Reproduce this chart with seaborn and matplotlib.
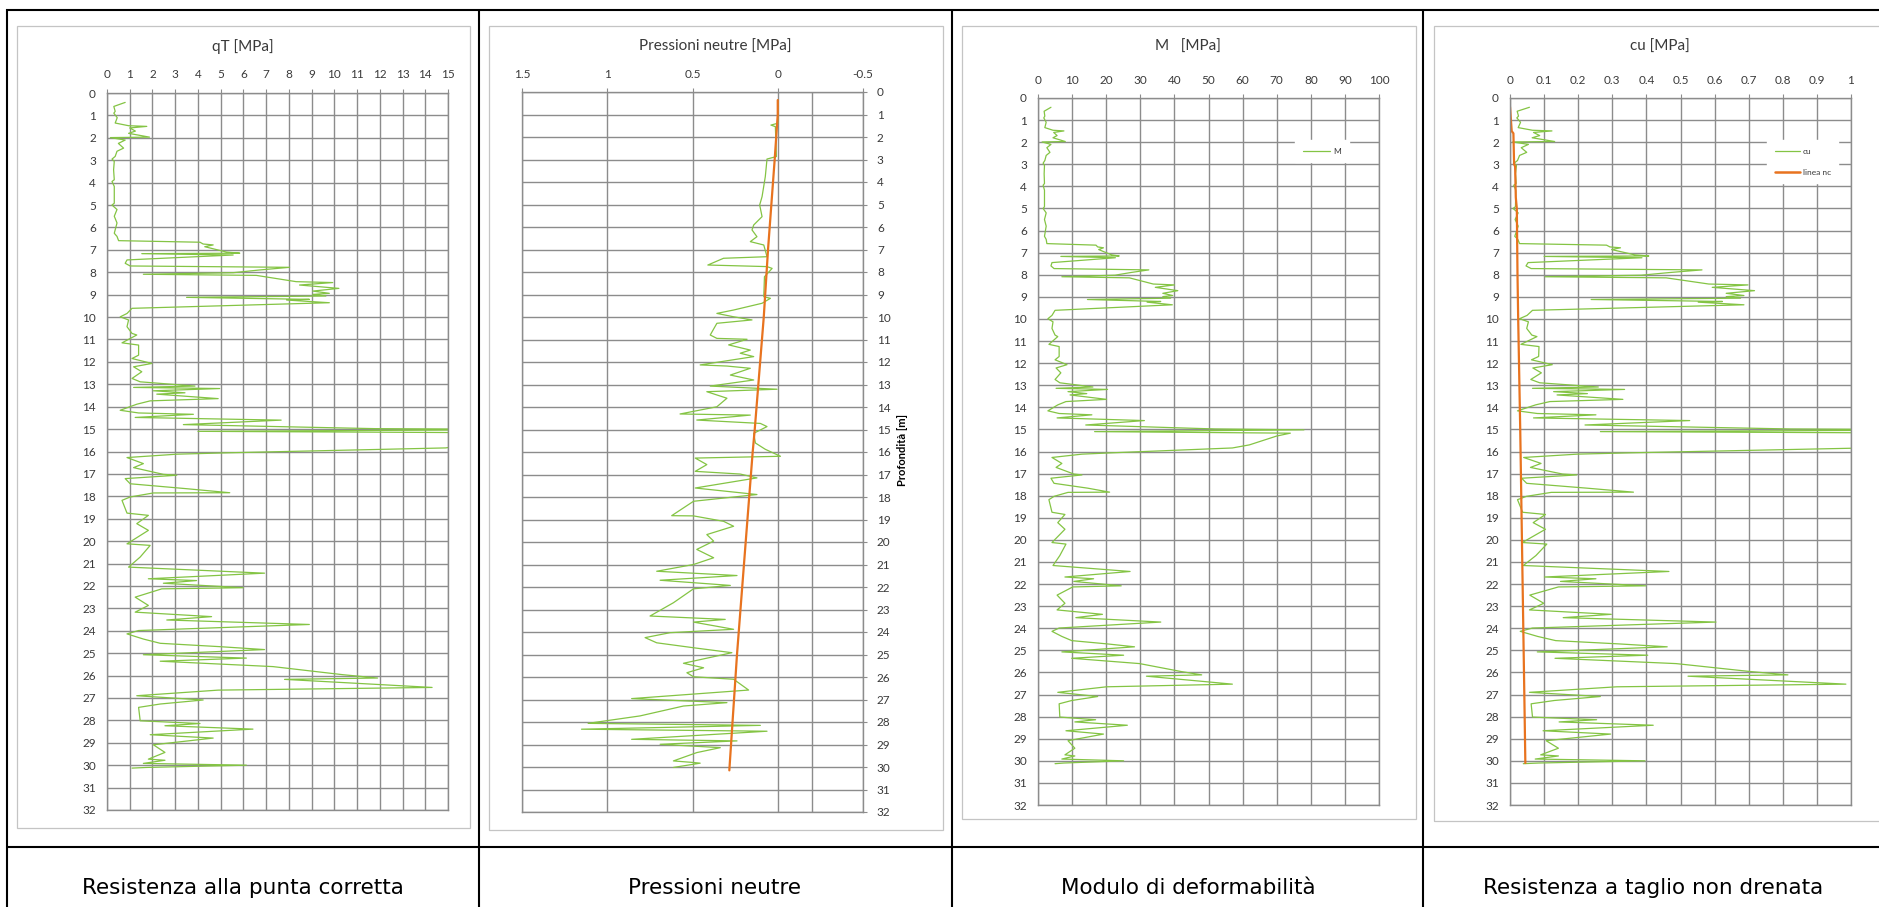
import matplotlib
matplotlib.use("Agg")
import matplotlib.pyplot as plt
import seaborn as sns
from matplotlib.lines import Line2D
from matplotlib.patches import Rectangle

# ---------------------------------------------------------------- data
# CPT depth samples [m] shared by qT, M and cu
depth_cpt = [0.42, 0.60, 0.82, 0.90, 1.10, 1.34, 1.46, 1.49, 1.56, 1.70,
             1.80, 1.97, 1.99, 2.10, 2.25, 2.46, 2.60, 2.83, 2.95, 3.05,
             3.43, 3.87, 3.95, 4.17, 4.92, 5.00, 5.20, 5.50, 5.80, 6.26,
             6.40, 6.59, 6.66, 6.74, 6.78, 6.86, 6.97, 7.10, 7.15, 7.17,
             7.23, 7.45, 7.60, 7.72, 7.78, 7.90, 8.02, 8.09, 8.14, 8.42,
             8.46, 8.57, 8.72, 8.84, 8.94, 8.99, 9.06, 9.12, 9.21, 9.24,
             9.36, 9.61, 9.84, 9.99, 10.13, 10.43, 10.73, 10.80, 11.15, 11.25,
             11.70, 11.85, 12.07, 12.22, 12.44, 12.74, 12.89, 13.08, 13.14, 13.19,
             13.29, 13.38, 13.44, 13.64, 13.74, 13.89, 14.16, 14.28, 14.34, 14.48,
             14.60, 14.80, 14.98, 15.02, 15.10, 15.17, 15.30, 15.50, 15.70, 15.84,
             16.06, 16.12, 16.27, 16.54, 16.72, 17.02, 17.06, 17.21, 17.44, 17.66,
             17.84, 17.85, 18.03, 18.18, 18.75, 18.85, 19.22, 19.52, 20.12, 20.19,
             20.71, 21.16, 21.43, 21.68, 21.76, 21.88, 22.08, 22.13, 22.50, 22.87,
             23.17, 23.37, 23.52, 23.72, 23.99, 24.14, 24.37, 24.56, 24.71, 24.84,
             25.07, 25.22, 25.36, 25.60, 25.96, 26.11, 26.17, 26.53, 26.65, 26.90,
             27.09, 27.27, 27.42, 28.02, 28.14, 28.24, 28.39, 28.64, 28.79, 29.09,
             29.43, 29.73, 29.78, 29.92, 30.00, 30.10, 30.13]

# corrected cone resistance qT [MPa]
qt = [0.80, 0.30, 0.36, 0.30, 0.45, 0.36, 0.95, 1.75, 1.00, 1.25,
      0.95, 1.87, 0.15, 0.80, 0.50, 0.73, 0.44, 0.36, 0.22, 0.32,
      0.29, 0.32, 0.22, 0.32, 0.32, 0.22, 0.44, 0.32, 0.44, 0.32,
      0.44, 0.51, 4.09, 4.23, 4.67, 4.30, 4.74, 5.26, 5.84, 1.53,
      5.55, 0.88, 0.80, 1.02, 8.03, 6.70, 5.55, 1.60, 6.57, 8.32,
      9.93, 8.47, 10.20, 9.05, 9.78, 9.05, 9.63, 3.50, 8.90, 7.90,
      9.78, 1.10, 0.88, 0.58, 0.95, 0.88, 1.10, 1.31, 0.66, 1.39,
      1.39, 1.10, 1.97, 1.17, 1.53, 1.10, 1.46, 3.87, 1.17, 4.96,
      2.04, 3.43, 2.19, 4.89, 1.90, 1.31, 0.58, 1.39, 3.80, 1.24,
      7.66, 3.36, 11.80, 19.50, 4.00, 18.50, 17.00, 16.50, 15.80, 14.90,
      5.26, 3.07, 0.88, 1.60, 1.17, 2.48, 3.07, 0.80, 1.02, 3.50,
      5.40, 2.04, 1.02, 0.66, 0.88, 1.82, 1.31, 1.82, 0.88, 1.90,
      1.46, 0.95, 6.93, 1.82, 3.94, 2.48, 5.99, 2.41, 1.24, 1.82,
      1.24, 4.60, 2.63, 8.90, 1.39, 0.88, 1.60, 2.34, 4.96, 6.93,
      1.60, 6.13, 2.34, 7.30, 10.36, 11.90, 7.81, 14.30, 4.89, 1.31,
      4.23, 2.34, 1.39, 1.46, 4.09, 2.55, 6.42, 1.90, 4.67, 2.04,
      2.55, 1.82, 2.55, 1.60, 6.13, 1.75, 1.10]

# deformation modulus M [MPa]
modulus = [3.8, 1.8, 2.0, 1.7, 2.4, 2.0, 4.4, 7.6, 4.6, 5.6,
           4.4, 8.0, 1.2, 3.8, 2.6, 3.5, 2.4, 2.0, 1.5, 1.9,
           1.8, 1.9, 1.5, 1.9, 1.9, 1.5, 2.4, 1.9, 2.4, 1.9,
           2.4, 2.6, 17.0, 17.5, 19.2, 17.8, 19.5, 21.6, 23.8, 6.7,
           22.7, 4.1, 3.8, 4.7, 32.5, 27.2, 22.6, 7.0, 26.8, 33.8,
           40.0, 34.4, 41.0, 36.6, 39.5, 36.6, 38.9, 14.5, 36.0, 32.0,
           39.4, 5.0, 4.1, 2.9, 4.4, 4.1, 5.0, 5.8, 3.2, 6.2,
           6.2, 5.0, 8.5, 5.3, 6.7, 5.0, 6.4, 16.1, 5.3, 20.4,
           8.8, 14.3, 9.4, 20.1, 8.2, 5.8, 2.9, 6.2, 15.8, 5.6,
           31.2, 14.0, 52.0, 78.0, 16.6, 74.0, 70.0, 66.0, 62.0, 57.0,
           21.6, 12.9, 4.1, 7.0, 5.3, 10.5, 12.9, 3.8, 4.7, 14.6,
           21.0, 8.8, 4.7, 3.2, 4.1, 7.9, 5.8, 7.9, 4.1, 8.2,
           6.4, 4.4, 27.0, 7.9, 16.3, 10.5, 24.4, 10.2, 5.6, 7.9,
           5.6, 18.9, 11.1, 36.0, 6.2, 4.1, 7.0, 9.9, 20.4, 28.3,
           7.0, 25.1, 9.9, 29.8, 42.0, 48.0, 31.8, 57.0, 20.1, 5.8,
           17.5, 9.9, 6.2, 6.4, 16.9, 10.8, 26.2, 8.2, 19.2, 8.8,
           10.8, 7.9, 10.8, 7.0, 25.1, 7.6, 5.0]

# undrained shear strength cu [MPa]
cu = [0.057, 0.021, 0.025, 0.020, 0.031, 0.024, 0.066, 0.123, 0.069, 0.087,
      0.065, 0.131, 0.008, 0.054, 0.033, 0.049, 0.028, 0.022, 0.012, 0.019,
      0.016, 0.018, 0.011, 0.017, 0.016, 0.009, 0.024, 0.015, 0.024, 0.014,
      0.023, 0.028, 0.283, 0.293, 0.324, 0.298, 0.329, 0.366, 0.407, 0.100,
      0.387, 0.053, 0.047, 0.062, 0.563, 0.468, 0.385, 0.103, 0.458, 0.583,
      0.698, 0.593, 0.717, 0.634, 0.686, 0.634, 0.676, 0.238, 0.623, 0.552,
      0.686, 0.066, 0.050, 0.028, 0.054, 0.049, 0.064, 0.079, 0.032, 0.085,
      0.084, 0.063, 0.124, 0.067, 0.092, 0.061, 0.087, 0.259, 0.066, 0.336,
      0.128, 0.227, 0.138, 0.331, 0.117, 0.075, 0.022, 0.080, 0.252, 0.069,
      0.527, 0.220, 0.822, 1.370, 0.265, 1.300, 1.190, 1.160, 1.110, 1.040,
      0.354, 0.197, 0.040, 0.091, 0.060, 0.154, 0.196, 0.034, 0.049, 0.226,
      0.362, 0.121, 0.048, 0.022, 0.037, 0.104, 0.068, 0.104, 0.036, 0.108,
      0.076, 0.039, 0.466, 0.101, 0.252, 0.148, 0.398, 0.142, 0.058, 0.099,
      0.057, 0.297, 0.156, 0.604, 0.066, 0.030, 0.081, 0.134, 0.321, 0.461,
      0.080, 0.404, 0.132, 0.487, 0.705, 0.815, 0.522, 0.985, 0.313, 0.057,
      0.265, 0.130, 0.062, 0.066, 0.254, 0.144, 0.420, 0.097, 0.295, 0.106,
      0.142, 0.090, 0.142, 0.074, 0.396, 0.084, 0.039]

# measured pore pressure u2 [MPa]
depth_u = [0.36, 1.39, 1.47, 1.54, 2.87, 2.98, 3.76, 4.65, 5.02, 5.54,
           5.91, 6.13, 6.43, 6.65, 6.80, 7.32, 7.39, 7.69, 7.76, 7.84,
           8.21, 9.10, 9.17, 9.39, 9.69, 9.84, 9.99, 10.13, 10.28, 10.80,
           10.95, 10.99, 11.24, 11.47, 11.61, 11.76, 12.13, 12.18, 12.28, 12.58,
           12.80, 13.07, 13.21, 13.32, 13.61, 13.99, 14.31, 14.36, 14.58, 14.73,
           14.87, 15.17, 15.60, 15.88, 16.19, 16.27, 16.56, 16.86, 16.98, 17.15,
           17.60, 17.89, 18.19, 18.83, 18.84, 19.08, 19.30, 19.67, 19.96, 20.33,
           20.70, 21.00, 21.30, 21.49, 21.70, 21.93, 22.08, 22.70, 23.29, 23.44,
           23.56, 23.88, 24.03, 24.25, 24.48, 24.70, 24.92, 25.39, 25.59, 25.81,
           25.99, 26.10, 26.58, 26.96, 27.14, 27.29, 27.73, 28.06, 28.15, 28.32,
           28.41, 28.77, 28.84, 28.99, 29.14, 29.36, 29.73, 29.80, 29.83, 30.02]
pore_u = [0.000, 0.000, 0.040, 0.014, 0.008, 0.063, 0.073, 0.092, 0.106, 0.092,
          0.141, 0.151, 0.122, 0.161, 0.082, 0.063, 0.318, 0.410, 0.063, 0.033,
          0.078, 0.082, 0.043, 0.092, 0.259, 0.357, 0.259, 0.151, 0.357, 0.396,
          0.357, 0.180, 0.288, 0.161, 0.220, 0.141, 0.455, 0.298, 0.161, 0.278,
          0.141, 0.396, 0.004, 0.416, 0.298, 0.357, 0.573, 0.161, 0.475, 0.102,
          0.063, 0.141, 0.131, 0.073, -0.016, 0.484, 0.416, 0.484, 0.220, 0.122,
          0.484, 0.122, 0.494, 0.622, 0.494, 0.318, 0.259, 0.416, 0.376, 0.475,
          0.376, 0.494, 0.710, 0.239, 0.690, 0.278, 0.494, 0.612, 0.749, 0.308,
          0.494, 0.259, 0.631, 0.778, 0.710, 0.494, 0.269, 0.553, 0.435, 0.533,
          0.494, 0.259, 0.171, 0.857, 0.298, 0.553, 0.808, 1.112, 0.102, 1.151,
          0.063, 0.857, 0.239, 0.690, 0.337, 0.475, 0.612, 0.494, 0.455, 0.612]

# hydrostatic pore pressure u0 [MPa]
depth_u0 = [0.36, 1.0, 3.0, 7.0, 10.0, 15.0, 16.0, 20.0, 25.0, 30.15]
u0 = [0.000, 0.000, 0.018, 0.057, 0.082, 0.135, 0.147, 0.188, 0.239, 0.284]

# normally consolidated reference line for cu [MPa]
depth_nc = [0.40, 1.50, 1.60, 3.00, 3.10, 4.50, 5.00, 8.00, 10.0, 15.0, 20.0, 25.0, 28.0, 30.1]
cu_nc = [0.000, 0.005, 0.010, 0.012, 0.015, 0.017, 0.020, 0.022, 0.024, 0.030, 0.035, 0.040, 0.043, 0.045]

# axis ticks and texts
depth_ticks = list(range(0, 33))
qt_ticks = list(range(0, 16))
u_ticks = [1.5, 1.0, 0.5, 0.0, -0.5]
u_tick_labels = ["1.5", "1", "0.5", "0", "-0.5"]
m_ticks = list(range(0, 101, 10))
cu_ticks = [0, 0.1, 0.2, 0.3, 0.4, 0.5, 0.6, 0.7, 0.8, 0.9, 1.0]
cu_tick_labels = ["0", "0.1", "0.2", "0.3", "0.4", "0.5", "0.6", "0.7", "0.8", "0.9", "1"]
titles = ["qT [MPa]", "Pressioni neutre [MPa]", "M   [MPa]", "cu [MPa]"]
captions = ["Resistenza alla punta corretta", "Pressioni neutre",
            "Modulo di deformabilità", "Resistenza a taglio non drenata"]
depth_label = "Profondità [m]"

# ---------------------------------------------------------------- style
sns.set_style("white")
plt.rcParams["font.family"] = ["Lato", "DejaVu Sans"]

W, H = 1879, 907
GREEN = "#84c444"
ORANGE = "#e8731f"
GRID = "#8c8c8c"
TXT = "#3a3a3a"

fig = plt.figure(figsize=(W / 100, H / 100), dpi=100)


def fbox(x0, y0, x1, y1):
    return [x0 / W, 1 - y1 / H, (x1 - x0) / W, (y1 - y0) / H]


def hline(x0, x1, y, **kw):
    fig.add_artist(Line2D([x0 / W, x1 / W], [1 - y / H, 1 - y / H],
                          transform=fig.transFigure, **kw))


def vline(x, y0, y1, **kw):
    fig.add_artist(Line2D([x / W, x / W], [1 - y0 / H, 1 - y1 / H],
                          transform=fig.transFigure, **kw))


def frame(x0, y0, x1, y1):
    fig.add_artist(Rectangle((x0 / W, 1 - y1 / H), (x1 - x0) / W, (y1 - y0) / H,
                             transform=fig.transFigure, fill=False,
                             edgecolor="#c4c4c4", lw=0.9))


def style(ax, xlim, xticks, xlabels, right=False):
    ax.set_xlim(*xlim)
    ax.set_ylim(32, 0)
    ax.set_xticks(xticks)
    ax.set_xticklabels(xlabels)
    ax.set_yticks(depth_ticks)
    ax.set_yticklabels([str(d) for d in depth_ticks])
    ax.xaxis.tick_top()
    if right:
        ax.yaxis.tick_right()
    ax.tick_params(axis="both", colors=GRID, labelcolor=TXT, labelsize=8.5,
                   length=3, width=0.8)
    ax.tick_params(axis="x", pad=6)
    ax.tick_params(axis="y", pad=7 if right else 5)
    ax.grid(True, color=GRID, lw=1.0)
    ax.set_axisbelow(True)
    for s in ax.spines.values():
        s.set_color(GRID)
        s.set_linewidth(1.0)
    ax.set_xlabel("")
    ax.set_ylabel("")


# chart frames
frame(17, 26, 470, 828)
frame(489, 26, 943, 830)
frame(962, 26, 1416, 819)
frame(1434, 26, 1895, 821)

# panel 1: qT
ax1 = fig.add_axes(fbox(107, 93, 448, 810))
sns.lineplot(x=qt, y=depth_cpt, sort=False, estimator=None, ax=ax1,
             color=GREEN, lw=0.9)
style(ax1, (0, 15), qt_ticks, [str(t) for t in qt_ticks])

# panel 2: pore pressures
ax2 = fig.add_axes(fbox(522, 92, 863, 812))
ax2.axvline(-0.2, color=GRID, lw=1.0, zorder=0.5)
sns.lineplot(x=pore_u, y=depth_u, sort=False, estimator=None, ax=ax2,
             color=GREEN, lw=0.9)
sns.lineplot(x=u0, y=depth_u0, sort=False, estimator=None, ax=ax2,
             color=ORANGE, lw=1.6)
style(ax2, (1.5, -0.5), u_ticks, u_tick_labels, right=True)

# panel 3: M
ax3 = fig.add_axes(fbox(1038, 98, 1379, 805))
sns.lineplot(x=modulus, y=depth_cpt, sort=False, estimator=None, ax=ax3,
             color=GREEN, lw=0.9)
style(ax3, (0, 100), m_ticks, [str(t) for t in m_ticks])
ax3.legend(handles=[Line2D([], [], color=GREEN, lw=0.9, label="M")],
           loc="upper left", bbox_to_anchor=(1295 / W, 1 - 140 / H),
           bbox_transform=fig.transFigure, borderaxespad=0, fontsize=6,
           frameon=True, fancybox=False, framealpha=1, facecolor="white",
           edgecolor="white", handlelength=3.3, handletextpad=0.4,
           borderpad=0.9, labelcolor=TXT)

# panel 4: cu
ax4 = fig.add_axes(fbox(1510, 98, 1851, 805))
sns.lineplot(x=cu, y=depth_cpt, sort=False, estimator=None, ax=ax4,
             color=GREEN, lw=0.9)
sns.lineplot(x=cu_nc, y=depth_nc, sort=False, estimator=None, ax=ax4,
             color=ORANGE, lw=1.6)
style(ax4, (0, 1), cu_ticks, cu_tick_labels)
ax4.legend(handles=[Line2D([], [], color=GREEN, lw=0.9, label="cu"),
                    Line2D([], [], color=ORANGE, lw=1.8, label="linea nc")],
           loc="upper left", bbox_to_anchor=(1767 / W, 1 - 140 / H),
           bbox_transform=fig.transFigure, borderaxespad=0, fontsize=6,
           frameon=True, fancybox=False, framealpha=1, facecolor="white",
           edgecolor="white", handlelength=3.0, handletextpad=0.4,
           borderpad=0.9, labelspacing=1.7, labelcolor=TXT)

# chart titles and depth label
for cx, t in zip([243, 715, 1188, 1660], titles):
    fig.text(cx / W, 1 - 47 / H, t, ha="center", va="center",
             fontsize=11, color=TXT)
fig.text(903 / W, 1 - 450 / H, depth_label, rotation=90, ha="center",
         va="center", fontsize=8, fontweight="bold", color="black")

# table rules
RULE = dict(color="black", lw=1.5, solid_capstyle="butt")
hline(6, W, 10, **RULE)
hline(6, W, 847, **RULE)
for x in [7, 479, 952, 1423]:
    vline(x, 9, H, **RULE)

# captions under each chart
for cx, c in zip([243, 715, 1188, 1653], captions):
    fig.text(cx / W, 1 - 888 / H, c, ha="center", va="center",
             fontsize=15.5, color="black", family=["DejaVu Sans"])

fig.savefig("out.png", dpi=100)
